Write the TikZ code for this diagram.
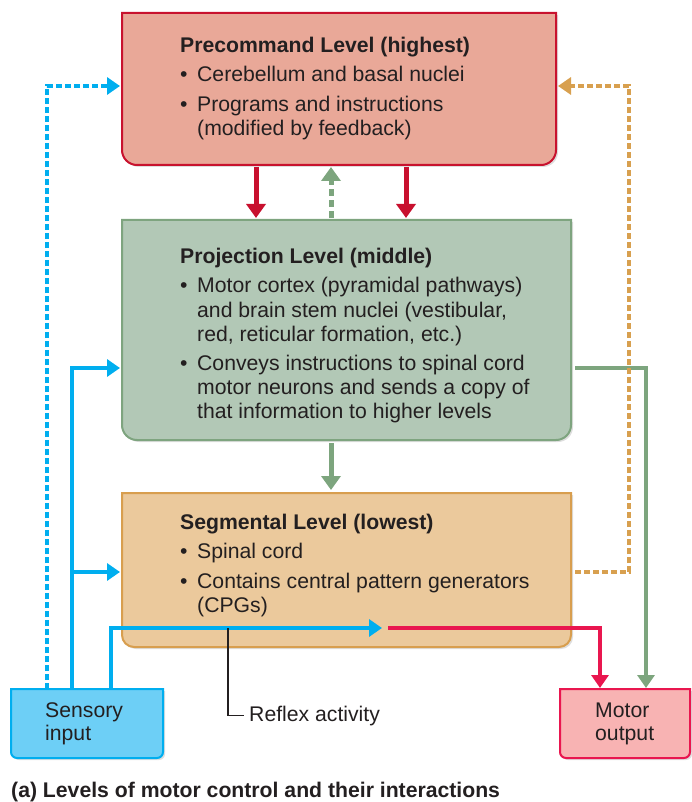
\documentclass[tikz,border=0pt]{standalone}
\usepackage{fontspec}
\setmainfont{Liberation Sans}
\usetikzlibrary{arrows.meta,fit}
\definecolor{precFill}{RGB}{233,168,152}
\definecolor{precDraw}{RGB}{200,18,46}
\definecolor{projFill}{RGB}{178,200,182}
\definecolor{projDraw}{RGB}{126,164,127}
\definecolor{segFill}{RGB}{235,201,156}
\definecolor{segDraw}{RGB}{216,158,78}
\definecolor{sensFill}{RGB}{109,207,246}
\definecolor{sensDraw}{RGB}{0,174,239}
\definecolor{motFill}{RGB}{248,179,179}
\definecolor{motDraw}{RGB}{233,22,79}
\definecolor{arRed}{RGB}{200,16,46}
\definecolor{arGreen}{RGB}{125,165,126}
\definecolor{arBlue}{RGB}{0,174,239}
\definecolor{arOrange}{RGB}{216,160,79}
\definecolor{arPink}{RGB}{233,22,79}
\definecolor{textc}{RGB}{35,31,32}
% #1 name, #2 left, #3 top, #4 right, #5 bottom, #6 radius, #7 style
\newcommand\lvlbox[7]{%
  \fill[black,opacity=0.13] ({#2+2},{-#3-2}) -- ({#2+2},{-#5-2+#6})
    arc[start angle=180,end angle=270,radius=#6] -- ({#4+2-#6},{-#5-2})
    arc[start angle=270,end angle=360,radius=#6] -- ({#4+2},{-#3-2}) -- cycle;
  \draw[#7] (#2,-#3) -- (#2,{-#5+#6})
    arc[start angle=180,end angle=270,radius=#6] -- ({#4-#6},-#5)
    arc[start angle=270,end angle=360,radius=#6] -- (#4,-#3) -- cycle;
  \node[fit={(#2,-#3) (#4,-#5)},inner sep=0pt,outer sep=0pt] (#1) {};
}
\tikzset{
  txt/.style={inner sep=0pt,anchor=base west,text=textc,font=\fontsize{21.2}{24}\selectfont},
  tip/.style={-{Triangle[width=19pt,length=14pt]}},
  tipS/.style={-{Triangle[width=17pt,length=13pt]}},
  redarr/.style={tip,draw=arRed,line width=5pt},
  grnarr/.style={tip,draw=arGreen,line width=5pt},
  bluearr/.style={tipS,draw=arBlue,line width=4.8pt},
  pinkarr/.style={tipS,draw=arPink,line width=4.8pt},
  dashpat/.style={dash pattern=on 6pt off 3pt},
}
\newcommand\bul{\makebox[17pt][l]{•}}
\begin{document}
\begin{tikzpicture}[x=1pt,y=1pt]
\useasboundingbox (0,0) rectangle (691,-802);
% boxes
\lvlbox{pre}{122}{13}{556}{165}{15}{fill=precFill,draw=precDraw,line width=2pt}
\lvlbox{proj}{122}{220}{571}{440}{15}{fill=projFill,draw=projDraw,line width=2pt}
\lvlbox{seg}{122}{493}{571}{647}{12}{fill=segFill,draw=segDraw,line width=2pt}
\lvlbox{sens}{11}{689}{163}{758}{6}{fill=sensFill,draw=sensDraw,line width=2pt}
\lvlbox{mot}{560}{689}{690}{758}{6}{fill=motFill,draw=motDraw,line width=2pt}
% texts
\node[txt] (preT) at (180,-53) {\bfseries Precommand Level (highest)};
\node[txt] (preA) at (180,-82) {\bul Cerebellum and basal nuclei};
\node[txt] (preB) at (180,-112) {\bul Programs and instructions};
\node[txt] (preC) at (197,-136) {(modified by feedback)};
\node[txt] (projT) at (180,-263) {\bfseries Projection Level (middle)};
\node[txt] (projA) at (180,-292) {\bul Motor cortex (pyramidal pathways)};
\node[txt] (projB) at (197,-317) {and brain stem nuclei (vestibular,};
\node[txt] (projC) at (197,-341) {red, reticular formation, etc.)};
\node[txt] (projD) at (180,-370) {\bul Conveys instructions to spinal cord};
\node[txt] (projE) at (197,-394) {motor neurons and sends a copy of};
\node[txt] (projF) at (197,-418) {that information to higher levels};
\node[txt] (segT) at (180,-529) {\bfseries Segmental Level (lowest)};
\node[txt] (segA) at (180,-558) {\bul Spinal cord};
\node[txt] (segB) at (180,-588) {\bul Contains central pattern generators};
\node[txt] (segC) at (197,-612) {(CPGs)};
\node[txt] (sensA) at (45,-717) {Sensory};
\node[txt] (sensB) at (45,-740) {input};
\node[txt] (motA) at (595,-717) {Motor};
\node[txt] (motB) at (595,-740) {output};
\node[txt] (reflex) at (249,-721) {Reflex activity};
\node[txt] (cap) at (11,-797) {\bfseries (a) Levels of motor control and their interactions};
% connectors between levels
\draw[redarr,shorten <=2pt,shorten >=2pt] (pre.south -| 256,0) -- (proj.north -| 256,0);
\draw[redarr,shorten <=2pt,shorten >=2pt] (pre.south -| 406,0) -- (proj.north -| 406,0);
\draw[grnarr,dash pattern=on 7pt off 4pt,shorten <=2pt,shorten >=2pt] (proj.north -| 331,0) -- (pre.south -| 331,0);
\draw[grnarr,shorten <=3pt,shorten >=3pt] (proj.south -| 331,0) -- (seg.north -| 331,0);
% sensory feedback
\draw[bluearr,dashpat,shorten >=2pt] (sens.north -| 47,0) |- (pre.west |- 0,-86);
\draw[bluearr,shorten >=2pt] (sens.north -| 72,0) |- (proj.west |- 0,-368);
\coordinate (br) at (72,-572);
\draw[bluearr,shorten >=2pt] (br) -- (seg.west |- br);
\coordinate (rx) at (382,-628);
\draw[bluearr] (sens.north -| 111,0) |- (rx);
% reflex output
\coordinate (rs) at (388,-628);
\draw[pinkarr,shorten >=1pt] (rs) -| (mot.north -| 600,0);
% projection to motor output
\draw[tipS,draw=arGreen,line width=4.2pt,shorten <=4pt,shorten >=1pt] (proj.east |- 0,-368) -| (mot.north -| 646,0);
% segmental to precommand (dashed)
\draw[tipS,draw=arOrange,line width=4.8pt,dashpat,shorten <=4pt,shorten >=2pt] (seg.east |- 0,-572) -| (629,-86) -- (pre.east |- 0,-86);
% reflex leader
\coordinate (lv) at (228,-628);
\draw[textc,line width=1.5pt,shorten >=5pt] (lv) |- (reflex.west);
\end{tikzpicture}
\end{document}
